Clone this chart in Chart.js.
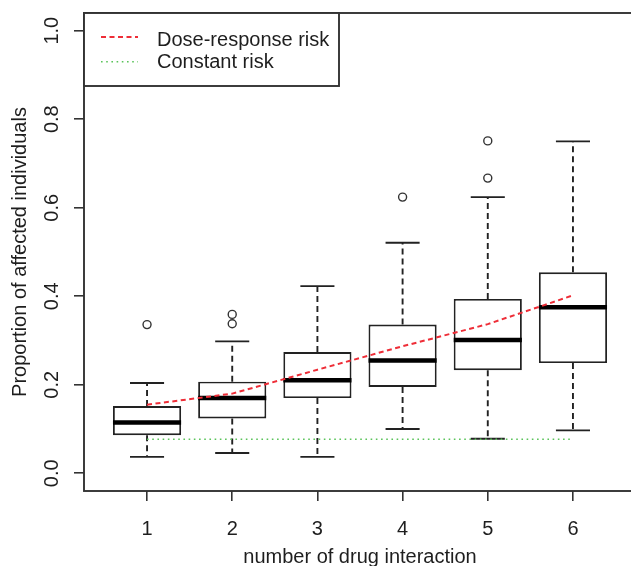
<!DOCTYPE html>
<html>
<head>
<meta charset="utf-8">
<script src="https://cdn.jsdelivr.net/npm/chart.js@4.4.1/dist/chart.umd.min.js"></script>
<style>
  html, body { margin: 0; padding: 0; background: #fff; overflow: hidden; }
  #wrap { width: 650px; height: 566px; }
</style>
</head>
<body>
<div id="wrap"><canvas id="boxChart" width="650" height="566"></canvas></div>
<script>
// Values
var categories = [1, 2, 3, 4, 5, 6];
var whiskerLow = [0.037, 0.046, 0.037, 0.100, 0.078, 0.097];
var quartile1 = [0.086, 0.124, 0.170, 0.195, 0.233, 0.249];
var medians = [0.115, 0.170, 0.210, 0.255, 0.301, 0.375];
var quartile3 = [0.152, 0.207, 0.274, 0.336, 0.394, 0.454];
var whiskerHigh = [0.204, 0.298, 0.423, 0.521, 0.624, 0.750];
var outlierGroup = [1, 2, 2, 4, 5, 5];
var outlierValue = [0.336, 0.338, 0.359, 0.624, 0.667, 0.751];
var doseResponse = [0.155, 0.180, 0.234, 0.287, 0.337, 0.402];
var constantRisk = [0.077, 0.077, 0.077, 0.077, 0.077, 0.077];
var yTickValues = [0, 0.2, 0.4, 0.6, 0.8, 1.0];
var seriesNames = ['Dose-response risk', 'Constant risk'];
var xAxisTitle = 'number of drug interaction';
var yAxisTitle = 'Proportion of affected individuals';

// R boxplot geometry (boxwex 0.8, staplewex 0.5)
var halfBox = 0.4;
var halfCap = 0.2;
var ink = '#1e1e1e';

Chart.defaults.font.family = '"Liberation Sans", Arial, sans-serif';
Chart.defaults.font.size = 20;
Chart.defaults.color = ink;

// turn [x1, y1, x2, y2] pairs into one broken line
var toSegments = function (pairs) {
  var pts = [];
  pairs.forEach(function (p) {
    pts.push({ x: p[0], y: p[1] }, { x: p[2], y: p[3] }, { x: p[2], y: null });
  });
  return pts;
};

var zipLine = function (values) {
  return categories.map(function (c, i) { return { x: c, y: values[i] }; });
};

var medianSegs = toSegments(categories.map(function (c, i) {
  return [c - halfBox, medians[i], c + halfBox, medians[i]];
}));

var whiskerSegs = toSegments([].concat.apply([], categories.map(function (c, i) {
  return [[c, quartile3[i], c, whiskerHigh[i]], [c, quartile1[i], c, whiskerLow[i]]];
})));

var capSegs = toSegments([].concat.apply([], categories.map(function (c, i) {
  return [[c - halfCap, whiskerHigh[i], c + halfCap, whiskerHigh[i]], [c - halfCap, whiskerLow[i], c + halfCap, whiskerLow[i]]];
})));

var outlierPts = outlierGroup.map(function (g, i) { return { x: g, y: outlierValue[i] }; });

var boxRanges = categories.map(function (c, i) { return { x: c, y: [quartile1[i], quartile3[i]] }; });

// plot frame, like R's box()
var framePlugin = {
  id: 'frame',
  afterDatasetsDraw: function (chart) {
    var a = chart.chartArea, ctx = chart.ctx;
    ctx.save();
    ctx.strokeStyle = '#333';
    ctx.lineWidth = 1.9;
    ctx.strokeRect(a.left, a.top, a.right - a.left, a.bottom - a.top);
    ctx.restore();
  }
};

// legend box in the top-left corner of the plot
var legendPlugin = {
  id: 'rLegend',
  afterDraw: function (chart) {
    var a = chart.chartArea, ctx = chart.ctx;
    var lineY = [24, 48.7], textY = [27, 49];
    ctx.save();
    ctx.fillStyle = '#fff';
    ctx.fillRect(a.left, a.top, 255, 73);
    ctx.strokeStyle = '#333';
    ctx.lineWidth = 1.9;
    ctx.strokeRect(a.left, a.top, 255, 73);
    [0, 1].forEach(function (i) {
      var ds = chart.data.datasets[i];
      ctx.strokeStyle = ds.borderColor;
      ctx.lineWidth = ds.borderWidth;
      ctx.setLineDash(ds.borderDash);
      ctx.beginPath();
      ctx.moveTo(a.left + 17, a.top + lineY[i]);
      ctx.lineTo(a.left + 54, a.top + lineY[i]);
      ctx.stroke();
      ctx.setLineDash([]);
      ctx.fillStyle = ink;
      ctx.font = '20px "Liberation Sans", Arial, sans-serif';
      ctx.textBaseline = 'middle';
      ctx.textAlign = 'left';
      ctx.fillText(ds.label, a.left + 73, a.top + textY[i]);
    });
    ctx.restore();
  }
};

var noEdgePadding = function (scale) {
  scale.paddingTop = 0;
  scale.paddingBottom = 0;
  scale.paddingLeft = 0;
  scale.paddingRight = 0;
};

var lineStyle = { type: 'scatter', showLine: true, pointRadius: 0, fill: false, spanGaps: false };

var datasets = [
  Object.assign({}, lineStyle, { label: seriesNames[0], data: zipLine(doseResponse), borderColor: 'rgb(238,45,55)', borderWidth: 2, borderDash: [5, 3.5] }),
  Object.assign({}, lineStyle, { label: seriesNames[1], data: zipLine(constantRisk), borderColor: 'rgb(90,196,90)', borderWidth: 1.6, borderDash: [1.6, 3.6] }),
  Object.assign({}, lineStyle, { label: 'median', data: medianSegs, borderColor: '#000', borderWidth: 4.5 }),
  { type: 'scatter', label: 'outliers', data: outlierPts, pointRadius: 4, pointStyle: 'circle', borderColor: '#333', borderWidth: 1.4, backgroundColor: 'rgba(0,0,0,0)', showLine: false },
  Object.assign({}, lineStyle, { label: 'caps', data: capSegs, borderColor: '#222', borderWidth: 1.9 }),
  Object.assign({}, lineStyle, { label: 'whiskers', data: whiskerSegs, borderColor: '#222', borderWidth: 1.9, borderDash: [6, 4] }),
  { type: 'bar', label: 'boxes', data: boxRanges, backgroundColor: '#fff', borderColor: '#222', borderWidth: 1.9, borderSkipped: false, categoryPercentage: 1, barPercentage: 0.8 }
];

var chart = new Chart(document.getElementById('boxChart').getContext('2d'), {
  type: 'scatter',
  data: { datasets: datasets },
  options: {
    responsive: false,
    animation: false,
    events: [],
    layout: { padding: { left: 0, top: 13, right: 14, bottom: 0 } },
    plugins: { legend: { display: false }, tooltip: { enabled: false } },
    scales: {
      x: {
        type: 'linear', min: 0.26, max: 6.74, offset: false,
        afterBuildTicks: function (scale) { scale.ticks = categories.map(function (v) { return { value: v }; }); },
        afterFit: function (scale) { scale.height = 75; noEdgePadding(scale); },
        grid: { offset: false, drawOnChartArea: false, drawTicks: true, tickLength: 10, color: '#333', lineWidth: 1.6 },
        border: { display: false },
        ticks: { autoSkip: false, maxRotation: 0, padding: 16, color: ink, callback: function (v) { return String(v); } },
        title: { display: true, text: xAxisTitle, color: ink, font: { size: 20, lineHeight: 0.9 }, padding: 0 }
      },
      y: {
        type: 'linear', min: -0.04, max: 1.04,
        afterBuildTicks: function (scale) { scale.ticks = yTickValues.map(function (v) { return { value: v }; }); },
        afterFit: function (scale) { scale.width = 84; noEdgePadding(scale); },
        grid: { drawOnChartArea: false, drawTicks: true, tickLength: 10, color: '#333', lineWidth: 1.6 },
        border: { display: false },
        ticks: { autoSkip: false, minRotation: 90, maxRotation: 90, crossAlign: 'center', padding: 8, color: ink, callback: function (v) { return v.toFixed(1); } },
        title: { display: true, text: yAxisTitle, color: ink, font: { size: 20 }, padding: { top: 8, bottom: 0 } }
      }
    }
  },
  plugins: [framePlugin, legendPlugin]
});
</script>
</body>
</html>
